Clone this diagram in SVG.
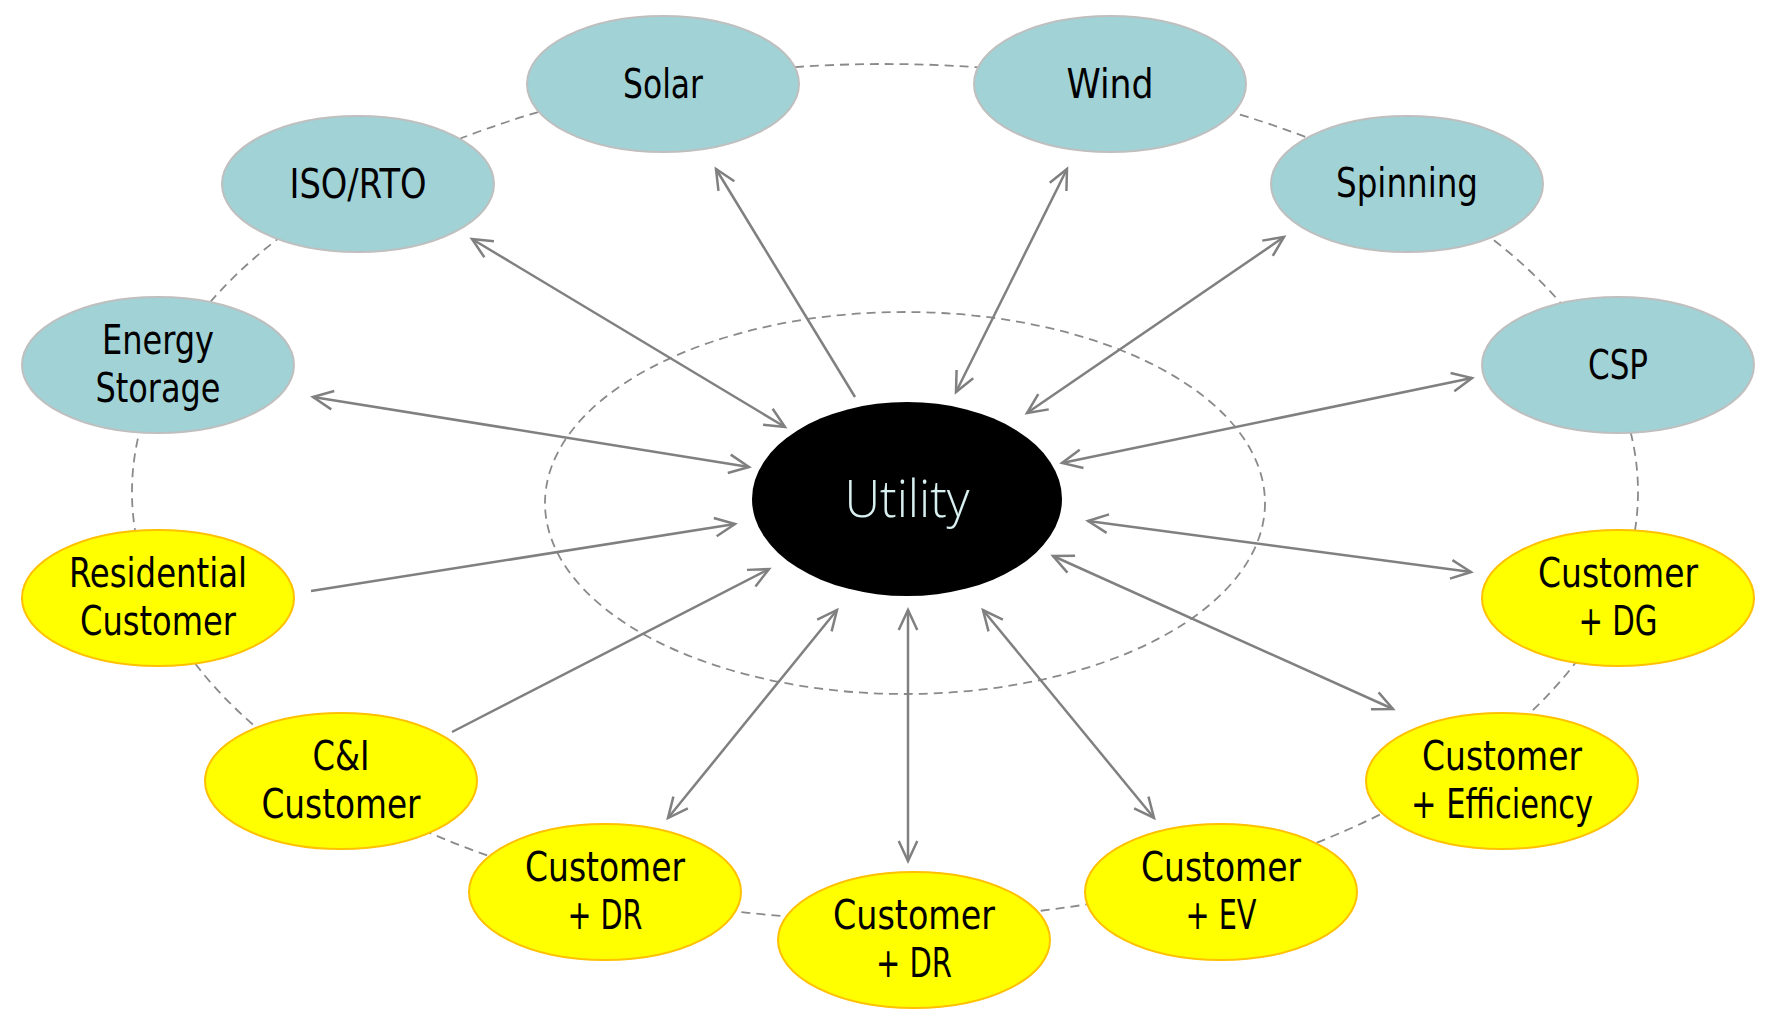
<svg xmlns="http://www.w3.org/2000/svg" width="1765" height="1013" viewBox="0 0 1765 1013">
  <style>
    .ring { fill: none; stroke: #8a8a8a; stroke-width: 1.8; stroke-dasharray: 9 6; }
    .teal ellipse { fill: #A0D2D6; stroke: #BFBFBF; stroke-width: 2; }
    .yellow ellipse { fill: #FFFF00; stroke: #FFC000; stroke-width: 2; }
    .lbl { font-family: 'Liberation Sans Narrow', 'DejaVu Sans Condensed', 'Liberation Sans', Arial, sans-serif; font-size: 41px; fill: #000000; text-anchor: middle; }
    .util-lbl { font-family: 'Open Sans', 'Liberation Sans', Arial, sans-serif; font-weight: 300; font-size: 52px; fill: #D9F0F0; text-anchor: middle; }
    .conn line { stroke: #808080; stroke-width: 2.5; fill: none; }
    .dbl { marker-start: url(#ah); marker-end: url(#ah); }
    .sgl { marker-end: url(#ah); }
  </style>
  <defs>
    <marker id="ah" markerUnits="userSpaceOnUse" viewBox="-24 -12 28 24" markerWidth="28" markerHeight="24" refX="0" refY="0" orient="auto-start-reverse" overflow="visible">
      <path d="M-20,-9.3 L0,0 L-20,9.3" fill="none" stroke="#808080" stroke-width="2.5" stroke-linejoin="miter"/>
    </marker>
  </defs>
  <rect width="1765" height="1013" fill="#FFFFFF"/>

  <g id="rings">
    <ellipse class="ring" cx="885" cy="492" rx="753" ry="428"/>
    <ellipse class="ring" cx="905" cy="503" rx="360" ry="191"/>
  </g>

  <g id="connectors" class="conn">
    <line class="sgl" x1="855" y1="397" x2="716" y2="169"/>
    <line class="dbl" x1="472" y1="239" x2="785" y2="427"/>
    <line class="dbl" x1="313" y1="397" x2="749" y2="467"/>
    <line class="dbl" x1="1067" y1="169" x2="956" y2="392"/>
    <line class="dbl" x1="1284" y1="237" x2="1027" y2="413"/>
    <line class="dbl" x1="1472" y1="378" x2="1062" y2="463"/>
    <line class="sgl" x1="311" y1="591" x2="735" y2="524"/>
    <line class="sgl" x1="452" y1="732" x2="769" y2="569"/>
    <line class="dbl" x1="668" y1="818" x2="837" y2="610"/>
    <line class="dbl" x1="908" y1="610" x2="908" y2="861"/>
    <line class="dbl" x1="983" y1="610" x2="1154" y2="818"/>
    <line class="dbl" x1="1053" y1="556" x2="1393" y2="709"/>
    <line class="dbl" x1="1088" y1="521" x2="1471" y2="572"/>
  </g>

  <g id="utility">
    <ellipse cx="907" cy="499" rx="155" ry="97" fill="#000000"/>
    <text class="util-lbl" x="907" y="517" textLength="125" lengthAdjust="spacingAndGlyphs">Utility</text>
  </g>

  <g id="solar" class="teal">
    <ellipse cx="663" cy="84" rx="136" ry="68"/>
    <text class="lbl" x="663" y="98" textLength="80" lengthAdjust="spacingAndGlyphs">Solar</text>
  </g>
  <g id="wind" class="teal">
    <ellipse cx="1110" cy="84" rx="136" ry="68"/>
    <text class="lbl" x="1110" y="98" textLength="87" lengthAdjust="spacingAndGlyphs">Wind</text>
  </g>
  <g id="iso-rto" class="teal">
    <ellipse cx="358" cy="184" rx="136" ry="68"/>
    <text class="lbl" x="358" y="198" textLength="137" lengthAdjust="spacingAndGlyphs">ISO/RTO</text>
  </g>
  <g id="spinning" class="teal">
    <ellipse cx="1407" cy="184" rx="136" ry="68"/>
    <text class="lbl" x="1407" y="197" textLength="142" lengthAdjust="spacingAndGlyphs">Spinning</text>
  </g>
  <g id="energy-storage" class="teal">
    <ellipse cx="158" cy="365" rx="136" ry="68"/>
    <text class="lbl" x="158" y="354" textLength="112" lengthAdjust="spacingAndGlyphs">Energy</text>
    <text class="lbl" x="158" y="402" textLength="125" lengthAdjust="spacingAndGlyphs">Storage</text>
  </g>
  <g id="csp" class="teal">
    <ellipse cx="1618" cy="365" rx="136" ry="68"/>
    <text class="lbl" x="1618" y="379" textLength="60" lengthAdjust="spacingAndGlyphs">CSP</text>
  </g>

  <g id="residential-customer" class="yellow">
    <ellipse cx="158" cy="598" rx="136" ry="68"/>
    <text class="lbl" x="158" y="587" textLength="178" lengthAdjust="spacingAndGlyphs">Residential</text>
    <text class="lbl" x="158" y="635" textLength="156" lengthAdjust="spacingAndGlyphs">Customer</text>
  </g>
  <g id="customer-dg" class="yellow">
    <ellipse cx="1618" cy="598" rx="136" ry="68"/>
    <text class="lbl" x="1618" y="587" textLength="160" lengthAdjust="spacingAndGlyphs">Customer</text>
    <text class="lbl" x="1618" y="635" textLength="79" lengthAdjust="spacingAndGlyphs">+ DG</text>
  </g>
  <g id="ci-customer" class="yellow">
    <ellipse cx="341" cy="781" rx="136" ry="68"/>
    <text class="lbl" x="341" y="770" textLength="57" lengthAdjust="spacingAndGlyphs">C&amp;I</text>
    <text class="lbl" x="341" y="818" textLength="159" lengthAdjust="spacingAndGlyphs">Customer</text>
  </g>
  <g id="customer-efficiency" class="yellow">
    <ellipse cx="1502" cy="781" rx="136" ry="68"/>
    <text class="lbl" x="1502" y="770" textLength="160" lengthAdjust="spacingAndGlyphs">Customer</text>
    <text class="lbl" x="1502" y="818" textLength="182" lengthAdjust="spacingAndGlyphs">+ Efficiency</text>
  </g>
  <g id="customer-dr-left" class="yellow">
    <ellipse cx="605" cy="892" rx="136" ry="68"/>
    <text class="lbl" x="605" y="881" textLength="160" lengthAdjust="spacingAndGlyphs">Customer</text>
    <text class="lbl" x="605" y="929" textLength="75" lengthAdjust="spacingAndGlyphs">+ DR</text>
  </g>
  <g id="customer-ev" class="yellow">
    <ellipse cx="1221" cy="892" rx="136" ry="68"/>
    <text class="lbl" x="1221" y="881" textLength="160" lengthAdjust="spacingAndGlyphs">Customer</text>
    <text class="lbl" x="1221" y="929" textLength="71" lengthAdjust="spacingAndGlyphs">+ EV</text>
  </g>
  <g id="customer-dr-bottom" class="yellow">
    <ellipse cx="914" cy="940" rx="136" ry="68"/>
    <text class="lbl" x="914" y="929" textLength="162" lengthAdjust="spacingAndGlyphs">Customer</text>
    <text class="lbl" x="914" y="977" textLength="76" lengthAdjust="spacingAndGlyphs">+ DR</text>
  </g>
</svg>
